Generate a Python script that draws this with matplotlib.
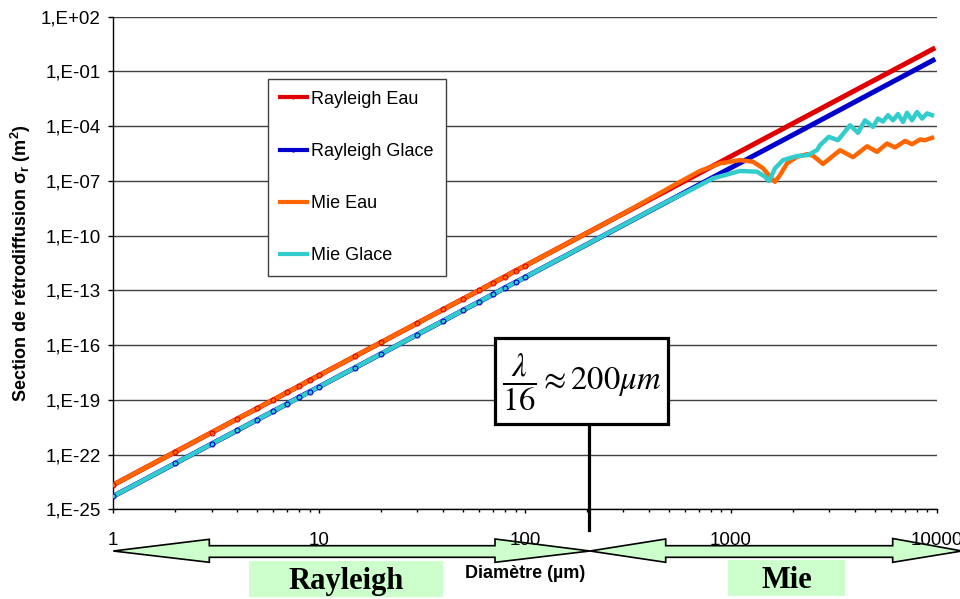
"""
Section de rétrodiffusion : Rayleigh vs Mie (eau / glace)
Recreation of an Excel log-log chart with matplotlib.
"""

import math
import matplotlib.pyplot as plt
from matplotlib.lines import Line2D
from matplotlib.patches import Polygon, Rectangle
from matplotlib.ticker import FixedLocator, FuncFormatter, LogLocator, NullFormatter, NullLocator

plt.rcParams['font.family'] = ['Liberation Sans', 'DejaVu Sans']

# Rayleigh (straight lines in log-log)
rayleigh_d = [1, 2, 3, 4, 5, 6, 7, 8, 9, 10, 15, 20, 30, 40, 50, 60, 70, 80, 90, 100,
              200, 500, 1000, 2000, 5000, 9600]
rayleigh_eau = [2.2e-24, 1.4e-22, 1.6e-21, 9.0e-21, 3.4e-20, 1.0e-19, 2.6e-19, 5.7e-19, 1.2e-18, 2.2e-18,
                2.5e-17, 1.4e-16, 1.6e-15, 9.0e-15, 3.4e-14, 1.0e-13, 2.6e-13, 5.7e-13, 1.2e-12, 2.2e-12,
                1.4e-10, 3.4e-8, 2.2e-6, 1.4e-4, 3.4e-2, 1.7]
rayleigh_glace = [5.2e-25, 3.3e-23, 3.8e-22, 2.1e-21, 8.1e-21, 2.4e-20, 6.1e-20, 1.4e-19, 2.8e-19, 5.2e-19,
                  5.9e-18, 3.3e-17, 3.8e-16, 2.1e-15, 8.1e-15, 2.4e-14, 6.1e-14, 1.4e-13, 2.8e-13, 5.2e-13,
                  3.3e-11, 8.1e-9, 5.2e-7, 3.3e-5, 8.1e-3, 0.41]
n_markers = 20  # markers visible up to 100 µm

# Mie, water
mie_eau_d = [1, 10, 100, 300, 566, 708, 885, 1108, 1281, 1433, 1549, 1639, 1733, 1874, 2096, 2344,
             2508, 2803, 3391, 3922, 4586, 5129, 5735, 6272, 7017, 7586, 8297, 8774, 9489]
mie_eau = [2.2e-24, 2.2e-18, 2.2e-12, 1.6e-9, 8.9e-8, 3.5e-7, 9.1e-7, 1.38e-6, 1.12e-6, 4.9e-7, 1.7e-7,
           8.9e-8, 2.1e-7, 9.1e-7, 2.1e-6, 2.9e-6, 2.4e-6, 8.5e-7, 4.8e-6, 2.0e-6, 7.9e-6, 3.9e-6,
           1.12e-5, 6.8e-6, 1.55e-5, 1.02e-5, 1.86e-5, 1.7e-5, 2.3e-5]

# Mie, ice
mie_glace_d = [1, 10, 100, 300, 489, 612, 819, 1108, 1340, 1466, 1532, 1639, 1792, 2096, 2370, 2621,
               2711, 2990, 3315, 3792, 4147, 4484, 4903, 5185, 5483, 5799, 6133, 6486, 6861, 7175,
               7586, 8024, 8484, 8975, 9489]
mie_glace = [5.2e-25, 5.2e-19, 5.2e-13, 3.8e-10, 7.2e-9, 2.5e-8, 1.38e-7, 3.5e-7, 3.2e-7, 1.7e-7, 9.8e-8,
             4.9e-7, 1.38e-6, 2.3e-6, 2.6e-6, 4.9e-6, 9.1e-6, 2.6e-5, 1.7e-5, 1.12e-4, 4.3e-5, 2.1e-4,
             9.1e-5, 2.6e-4, 1.8e-4, 4.0e-4, 2.1e-4, 4.6e-4, 1.7e-4, 5.4e-4, 2.1e-4, 6.0e-4, 2.6e-4,
             5.0e-4, 4.0e-4]

y_exponents = list(range(-25, 3, 3))

W, H = 960, 599


def px(x, y):
    """pixel position (from top-left) -> figure fraction"""
    return (x / W, 1 - y / H)


fig = plt.figure(figsize=(W / 100, H / 100), dpi=100)
ax = fig.add_axes([113.3 / W, 1 - 509.3 / H, 823.4 / W, 492.6 / H])

red, blue, orange, cyan = '#e00000', '#0000cc', '#ff6600', '#33cccc'

ax.plot(rayleigh_d, rayleigh_eau, color=red, lw=3.6, zorder=2)
ax.plot(rayleigh_d, rayleigh_glace, color=blue, lw=3.6, zorder=2)
ax.plot(mie_eau_d, mie_eau, color=orange, lw=3.2, zorder=3, solid_joinstyle='round')
ax.plot(mie_glace_d, mie_glace, color=cyan, lw=3.2, zorder=3, solid_joinstyle='round')
ax.plot(rayleigh_d[:n_markers], rayleigh_eau[:n_markers], ls='none', marker='o', ms=3.5,
        mfc='none', mec=red, mew=0.8, zorder=4)
ax.plot(rayleigh_d[:n_markers], rayleigh_glace[:n_markers], ls='none', marker='o', ms=3.5,
        mfc='none', mec=blue, mew=0.8, zorder=4)

ax.set_xscale('log')
ax.set_yscale('log')
ax.set_xlim(1, 10000)
ax.set_ylim(1e-25, 1e2)

ax.yaxis.set_major_locator(FixedLocator([10.0 ** e for e in y_exponents]))
ax.yaxis.set_minor_locator(NullLocator())
ax.yaxis.set_major_formatter(FuncFormatter(lambda v, p: "1,E%+03d" % round(math.log10(v))))
ax.xaxis.set_major_locator(LogLocator(base=10))
ax.xaxis.set_minor_locator(LogLocator(base=10, subs=range(2, 10)))
ax.xaxis.set_minor_formatter(NullFormatter())
ax.xaxis.set_major_formatter(FuncFormatter(lambda v, p: "%d" % round(v)))

ax.tick_params(axis='x', which='major', length=3.2, width=1, pad=13, labelsize=13.5)
ax.tick_params(axis='x', which='minor', length=2.2, width=1)
ax.tick_params(axis='y', length=3.6, width=1, pad=5.5, labelsize=13.5)

for s in ['top', 'right']:
    ax.spines[s].set_visible(False)
for s in ['left', 'bottom']:
    ax.spines[s].set_color('black')
    ax.spines[s].set_linewidth(1)

ax.yaxis.grid(True, color='#404040', lw=1)

ax.set_ylabel("Section de rétrodiffusion σ$_\\mathregular{r}$ (m$^\\mathregular{2}$)",
              fontsize=13, fontweight='bold')
ax.yaxis.set_label_coords(-(113.3 - 33) / 823.4, 0.5)
ax.set_xlabel("Diamètre (µm)", fontsize=13, fontweight='bold', va='top')
ax.xaxis.set_label_coords((525 - 113.3) / 823.4, -(565 - 509.3) / 492.6)

handles = [
    Line2D([], [], color=red, lw=3, marker='o', ms=2, mfc='none', mec=red),
    Line2D([], [], color=blue, lw=3, marker='o', ms=2, mfc='none', mec=blue),
    Line2D([], [], color=orange, lw=3),
    Line2D([], [], color=cyan, lw=3),
]
labels = ['Rayleigh Eau', 'Rayleigh Glace', 'Mie Eau', 'Mie Glace']
leg = ax.legend(handles, labels, loc='upper left', bbox_to_anchor=(0.188, 0.8735),
                fontsize=13, fancybox=False, framealpha=1, edgecolor='#404040',
                labelspacing=1.95, handlelength=1.5, handletextpad=0.25,
                borderpad=0.65, borderaxespad=0)
leg.get_frame().set_linewidth(1)

# regime arrows under the axis
green = '#ccffcc'
left_arrow = [(113.3, 551), (209.3, 539.3), (209.3, 545.7), (495, 545.7), (495, 539), (590, 551),
              (495, 562.3), (495, 557.3), (209.3, 557.3), (209.3, 562.3)]
right_arrow = [(590, 551), (665.7, 539), (665.7, 545.7), (892.7, 545.7), (892.7, 538.5), (962, 551),
               (892.7, 562.3), (892.7, 557.3), (665.7, 557.3), (665.7, 562.3)]
for pts in (left_arrow, right_arrow):
    fig.add_artist(Polygon([px(x, y) for x, y in pts], closed=True, facecolor=green,
                           edgecolor='black', lw=1.2, transform=fig.transFigure, zorder=-1))

for (x0, x1, y0, y1), name in [((249, 443, 561, 597), 'Rayleigh'), ((728, 845, 560, 596), 'Mie')]:
    fig.add_artist(Rectangle(px(x0, y1), (x1 - x0) / W, (y1 - y0) / H, facecolor=green,
                             edgecolor='none', transform=fig.transFigure, zorder=-1))
    fig.text(*px((x0 + x1) / 2, (y0 + y1) / 2 + 2), name, family='Liberation Serif',
             fontweight='bold', fontsize=22, ha='center', va='center')

# lambda/16 annotation
fig.add_artist(Line2D([px(589, 424)[0], px(589, 530)[0]], [px(589, 424)[1], px(589, 530)[1]],
                      color='black', lw=2.3, transform=fig.transFigure, zorder=5))
fig.add_artist(Rectangle(px(495, 424), 173 / W, 86 / H, facecolor='white', edgecolor='black',
                         lw=2.3, transform=fig.transFigure, zorder=6))
fig.text(*px(582, 382), r"$\dfrac{\lambda}{16}\approx 200\mu m$", math_fontfamily='stix',
         fontsize=23.5, ha='center', va='center', zorder=7)

fig.savefig('out.png', dpi=100)
